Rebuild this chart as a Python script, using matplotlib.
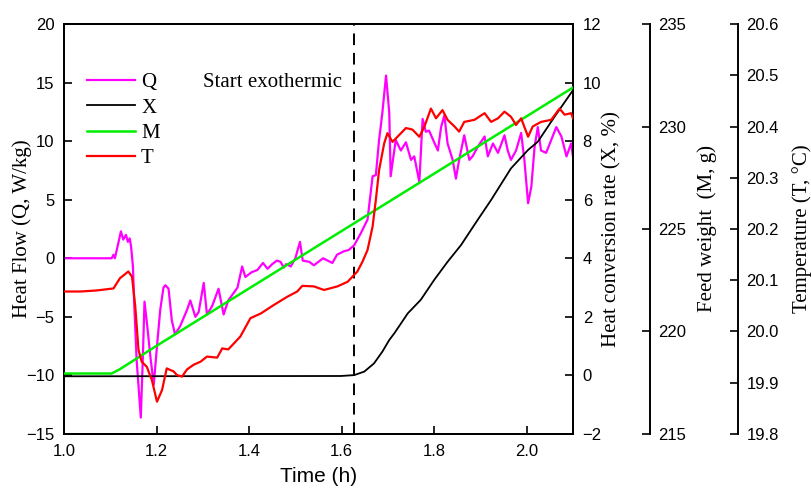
import matplotlib
matplotlib.use('Agg')
import matplotlib.pyplot as plt

# heat flow Q (W/kg)
t_q = [1.000, 1.103, 1.107, 1.110, 1.118, 1.123, 1.128, 1.134, 1.138, 1.142,
       1.145, 1.149, 1.152, 1.157, 1.166, 1.170, 1.174, 1.180, 1.187, 1.194,
       1.201, 1.208, 1.215, 1.219, 1.226, 1.233, 1.240, 1.251, 1.266, 1.273,
       1.284, 1.291, 1.302, 1.309, 1.320, 1.334, 1.345, 1.355, 1.366, 1.375,
       1.385, 1.392, 1.405, 1.418, 1.430, 1.440, 1.450, 1.460, 1.468, 1.475,
       1.480, 1.490, 1.500, 1.510, 1.516, 1.530, 1.540, 1.550, 1.560, 1.570,
       1.580, 1.590, 1.605, 1.615, 1.627, 1.641,
       1.656, 1.667, 1.674, 1.681, 1.688, 1.696, 1.703, 1.706, 1.717, 1.728,
       1.739, 1.750, 1.757, 1.768, 1.775, 1.782, 1.789, 1.800, 1.808, 1.815,
       1.822, 1.829, 1.840, 1.847, 1.854, 1.865, 1.876, 1.883, 1.894, 1.909,
       1.916, 1.927, 1.938, 1.952, 1.959, 1.966, 1.977, 1.988, 1.995, 2.003,
       2.010, 2.017, 2.024, 2.031, 2.042, 2.053, 2.064, 2.075, 2.086, 2.096,
       2.100]
q = [0.0, 0.0, 0.3, 0.0, 1.4, 2.3, 1.6, 2.0, 1.4, 1.7,
     1.0, -0.7, -4.1, -8.7, -13.6, -9.0, -3.7, -5.8, -8.5, -10.8,
     -7.5, -4.4, -2.5, -2.3, -2.6, -5.3, -6.5, -5.8, -4.4, -3.6,
     -5.0, -4.6, -2.1, -4.8, -4.1, -2.6, -4.8, -3.6, -3.0, -2.5,
     -0.7, -1.6, -1.2, -1.0, -0.4, -0.9, -0.5, -0.2, -0.3, -0.8,
     -0.5, -0.7, 0.0, 1.4, -0.2, -0.3, -0.6, -0.3, 0.0, -0.2,
     -0.4, 0.3, 0.6, 0.7, 1.1, 2.1,
     3.3, 7.0, 7.1, 10.1, 12.4, 15.6, 12.4, 7.0, 10.1, 9.2,
     9.9, 8.4, 8.7, 6.5, 11.9, 10.8, 10.9, 9.9, 9.2, 11.2,
     12.2, 9.8, 8.4, 6.8, 8.4, 10.5, 8.4, 8.7, 9.5, 10.4,
     8.7, 9.8, 9.0, 10.5, 9.2, 8.4, 9.2, 10.7, 8.4, 4.7,
     6.1, 9.5, 11.2, 9.2, 9.0, 10.1, 11.2, 10.4, 8.7, 9.8,
     8.7]

# heat conversion rate X (%)
t_x = [1.000, 1.598, 1.627, 1.649, 1.670, 1.688, 1.703, 1.714, 1.743, 1.771,
       1.800, 1.829, 1.858, 1.894, 1.923, 1.966, 2.003, 2.024, 2.060, 2.100]
x_rate = [-0.03, -0.02, 0.01, 0.13, 0.41, 0.81, 1.21, 1.44, 2.12, 2.58,
          3.26, 3.88, 4.45, 5.31, 5.99, 7.07, 7.70, 7.98, 8.83, 9.74]

# feed weight M (g)
t_m = [1.000, 1.103, 1.120, 1.200, 1.400, 1.600, 1.800, 2.000, 2.100]
m = [217.95, 217.95, 218.15, 219.3, 222.1, 224.9, 227.7, 230.5, 231.9]

# temperature T (C)
t_t = [1.000, 1.035, 1.070, 1.107, 1.121, 1.139, 1.147, 1.154, 1.161, 1.168,
       1.179, 1.190, 1.201, 1.212, 1.222, 1.237, 1.244, 1.255, 1.266, 1.280,
       1.295, 1.309, 1.331, 1.342, 1.355, 1.381, 1.403, 1.425, 1.454, 1.483,
       1.504, 1.515, 1.540, 1.562, 1.591, 1.613, 1.634, 1.645, 1.656, 1.667,
       1.674, 1.681, 1.692, 1.699, 1.710, 1.724, 1.739, 1.753, 1.768, 1.779,
       1.793, 1.804, 1.818, 1.829, 1.844, 1.854, 1.865, 1.887, 1.909, 1.923,
       1.938, 1.952, 1.966, 1.977, 1.988, 2.003, 2.013, 2.031, 2.053, 2.071,
       2.082, 2.096, 2.100]
temp = [20.078, 20.078, 20.080, 20.084, 20.104, 20.117, 20.107, 20.049, 19.964, 19.941,
        19.931, 19.905, 19.863, 19.886, 19.928, 19.922, 19.915, 19.912, 19.926, 19.935,
        19.941, 19.951, 19.949, 19.967, 19.965, 19.990, 20.026, 20.035, 20.052, 20.068,
        20.078, 20.089, 20.088, 20.081, 20.088, 20.097, 20.117, 20.136, 20.159, 20.205,
        20.257, 20.315, 20.367, 20.387, 20.370, 20.383, 20.397, 20.394, 20.380, 20.400,
        20.435, 20.416, 20.432, 20.413, 20.400, 20.390, 20.409, 20.413, 20.426, 20.409,
        20.416, 20.429, 20.419, 20.403, 20.416, 20.380, 20.400, 20.409, 20.413, 20.435,
        20.423, 20.426, 20.416]

t_start = 1.626

serif = 'Liberation Serif'
sans = 'Liberation Sans'
plt.rcParams['font.family'] = sans
plt.rcParams['font.size'] = 12

fig = plt.figure(figsize=(8.11, 4.94), dpi=100)
ax = fig.add_axes([0.0789, 0.1215, 0.6276, 0.8299])
ax2 = ax.twinx()
ax3 = ax.twinx()
ax4 = ax.twinx()
ax3.spines['right'].set_position(('axes', 1.1513))
ax4.spines['right'].set_position(('axes', 1.3242))

l1, = ax.plot(t_q, q, color='#ff00ff', lw=1.6, label='Q')
l2, = ax2.plot(t_x, x_rate, color='black', lw=1.3, label='X')
l3, = ax3.plot(t_m, m, color='#00ee00', lw=1.8, label='M')
l4, = ax4.plot(t_t, temp, color='red', lw=1.6, label='T')

ax.axvline(t_start, color='black', lw=1.4, dashes=(6, 4))
ax.text(1.301, 15, 'Start exothermic', family=serif, fontsize=15,
        ha='left', va='center')

ax.set_xlim(1.0, 2.1)
ax.set_ylim(-15, 20)
ax.set_xticks([1.0, 1.2, 1.4, 1.6, 1.8, 2.0])
ax.set_xticklabels(['1.0', '1.2', '1.4', '1.6', '1.8', '2.0'])
ax.set_yticks(range(-15, 21, 5))

ax2.set_ylim(-2, 12)
ax2.set_yticks(range(-2, 13, 2))
ax3.set_ylim(215, 235)
ax3.set_yticks(range(215, 236, 5))
ax4.set_ylim(19.8, 20.6)
ax4.set_yticks([19.8, 19.9, 20.0, 20.1, 20.2, 20.3, 20.4, 20.5, 20.6])
ax4.set_yticklabels(['19.8', '19.9', '20.0', '20.1', '20.2', '20.3', '20.4', '20.5', '20.6'])

for a in (ax, ax2, ax3, ax4):
    for s in a.spines.values():
        s.set_linewidth(1.4)
for a in (ax3, ax4):
    for side in ('left', 'top', 'bottom'):
        a.spines[side].set_visible(False)

ax.tick_params(axis='both', direction='in', length=6, width=1.2, pad=7, labelsize=12)
ax.tick_params(axis='y', right=False)
ax2.tick_params(axis='y', direction='in', length=6, width=1.2, pad=7, labelsize=12)
ax3.tick_params(axis='y', direction='in', length=6, width=1.2, pad=6, labelsize=12)
ax4.tick_params(axis='y', direction='in', length=6, width=1.2, pad=6, labelsize=12)

ax.set_xlabel('Time (h)', fontsize=15, labelpad=6)
ax.set_ylabel('Heat Flow (Q, W/kg)', family=serif, fontsize=15)
ax2.set_ylabel('Heat conversion rate (X, %)', family=serif, fontsize=15)
ax3.set_ylabel('Feed weight  (M, g)', family=serif, fontsize=15)
ax4.set_ylabel('Temperature (T, \u00b0C)', family=serif, fontsize=15)
ax.yaxis.set_label_coords(-0.063, 0.5)
ax2.yaxis.set_label_coords(1.057, 0.5)
ax3.yaxis.set_label_coords(1.2436, 0.5)
ax4.yaxis.set_label_coords(1.430, 0.5)

ax.legend(handles=[l1, l2, l3, l4], loc='upper left', bbox_to_anchor=(0.045, 0.881),
          frameon=False, borderpad=0, borderaxespad=0, handlelength=2.3,
          handletextpad=0.3, labelspacing=0.27, prop={'family': serif, 'size': 15})

fig.savefig('out.png', dpi=100)
